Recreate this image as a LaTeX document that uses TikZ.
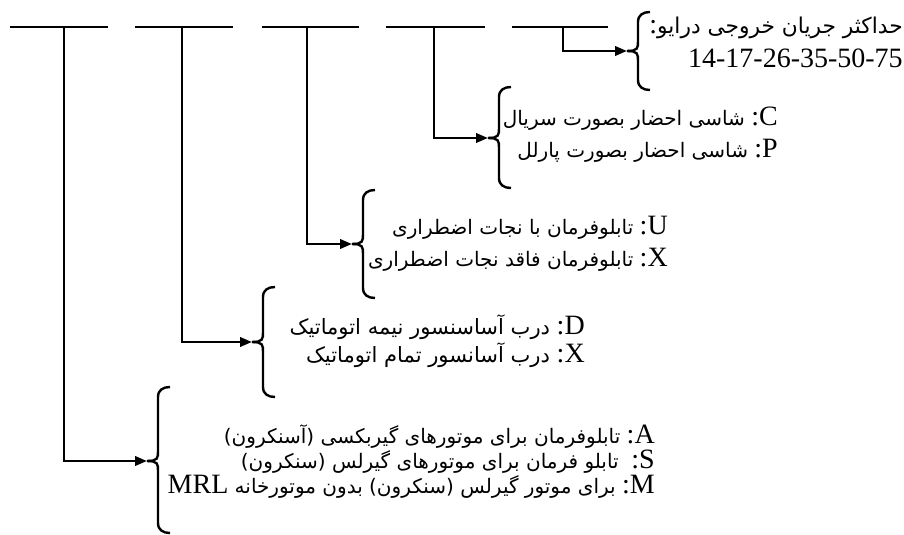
\documentclass[tikz,border=0pt]{standalone}
\usepackage{fontspec}
\setmainfont{Liberation Serif}
\newfontfamily\fa[Script=Arabic]{DejaVu Sans}
\TeXXeTstate=1
\usetikzlibrary{arrows.meta}
\newcommand\lat{\rmfamily\fontsize{21}{24}\selectfont}
\newcommand\curlyb[3]{%
  \draw[brc] (#1) .. controls +(11,0) and +(0,7) .. ++(11,-10) -- ++(0,{-(#2-20)})
     .. controls +(0,-7) and +(-7,0) .. ++(12,-10);
  \draw[brc] (#1) .. controls +(11,0) and +(0,-7) .. ++(11,10) -- ++(0,{#3-20})
     .. controls +(0,7) and +(-7,0) .. ++(12,10);}
\begin{document}
\begin{tikzpicture}[x=0.75pt,y=-0.75pt,
  seg/.style={line width=2pt},
  conn/.style={line width=2pt,-{Triangle[length=9pt,width=7pt]}},
  brc/.style={line width=1.8pt},
  lbl/.style={anchor=base east,inner sep=0pt,font=\fa\fontsize{15}{18}\selectfont},
  lblb/.style={lbl,font=\fa\fontsize{15.8}{18}\selectfont},
  lblt/.style={lbl,font=\fa\fontsize{16.3}{18}\selectfont}]
\useasboundingbox (0,0) rectangle (904,535);
% top segments
\coordinate (s1a) at (10,27);  \coordinate (s1b) at (108,27);
\coordinate (s2a) at (135,27); \coordinate (s2b) at (233,27);
\coordinate (s3a) at (262,27); \coordinate (s3b) at (359,27);
\coordinate (s4a) at (386,27); \coordinate (s4b) at (485,27);
\coordinate (s5a) at (512,27); \coordinate (s5b) at (608,27);
\draw[seg] (s1a) -- (s1b);
\draw[seg] (s2a) -- (s2b);
\draw[seg] (s3a) -- (s3b);
\draw[seg] (s4a) -- (s4b);
\draw[seg] (s5a) -- (s5b);
% branch start points
\coordinate (v1) at (64,27);
\coordinate (v2) at (182,27);
\coordinate (v3) at (307,27);
\coordinate (v4) at (434,27);
\coordinate (v5) at (563,27);
% brace tips
\coordinate (t1) at (147,461);
\coordinate (t2) at (252,342);
\coordinate (t3) at (352,244);
\coordinate (t4) at (488,138);
\coordinate (t5) at (627,51);
\draw[conn] (v1) |- (t1);
\draw[conn] (v2) |- (t2);
\draw[conn] (v3) |- (t3);
\draw[conn] (v4) |- (t4);
\draw[conn] (v5) |- (t5);
\curlyb{t1}{74}{72}
\curlyb{t2}{55}{55}
\curlyb{t3}{54}{54}
\curlyb{t4}{51}{50}
\curlyb{t5}{39}{39}
% labels
\node[lblt] (l5a) at (903,34) {\beginR حداکثر جریان خروجی درایو{\lat\kern0pt:}\endR};
\node[lbl,font=\lat] (l5b) at (903,68) {14-17-26-35-50-75};
\node[lbl] (l4a) at (778,126) {\beginR{\lat C\kern0pt:}\ شاسی احضار بصورت سریال\endR};
\node[lbl] (l4b) at (778,157) {\beginR{\lat P\kern0pt:}\ شاسی احضار بصورت پارلل\endR};
\node[lbl] (l3a) at (668,234) {\beginR{\lat U\kern0pt:}\ تابلوفرمان با نجات اضطراری\endR};
\node[lbl] (l3b) at (668,266) {\beginR{\lat X\kern0pt:}\ تابلوفرمان فاقد نجات اضطراری\endR};
\node[lblb] (l2a) at (585,334) {\beginR{\lat D\kern0pt:}\ درب آساسنسور نیمه اتوماتیک\endR};
\node[lblb] (l2b) at (585,362) {\beginR{\lat X\kern0pt:}\ درب آسانسور تمام اتوماتیک\endR};
\node[lbl] (l1a) at (655,443) {\beginR{\lat A\kern0pt:}\ تابلوفرمان برای موتورهای گیربکسی (آسنکرون)\endR};
\node[lbl] (l1b) at (655,468) {\beginR{\lat S\kern0pt:}\ \ تابلو فرمان برای موتورهای گیرلس (سنکرون)\endR};
\node[lbl] (l1c) at (655,493) {\beginR{\lat M\kern0pt:}\ برای موتور گیرلس (سنکرون) بدون موتورخانه {\lat MRL}\endR};
\end{tikzpicture}
\end{document}
